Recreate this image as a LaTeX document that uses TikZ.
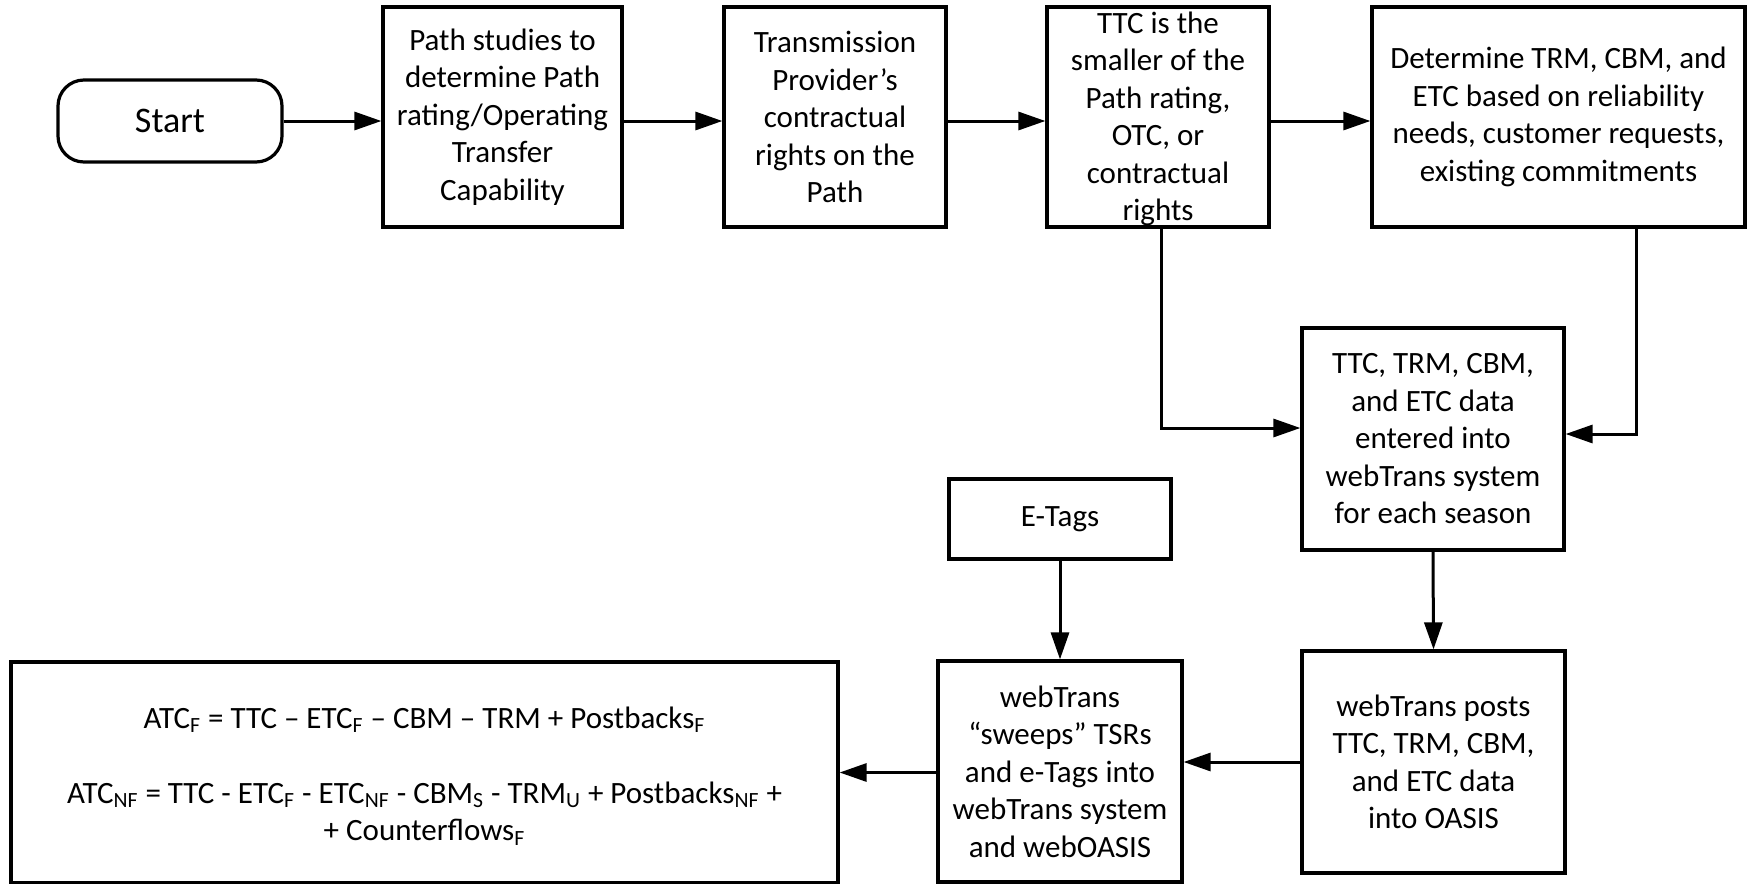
\documentclass[tikz,border=0pt]{standalone}
\usepackage{fontspec}
\setmainfont{Carlito}
\usetikzlibrary{arrows.meta}
\tikzset{
  boxst/.style={draw, line width=1.6pt, inner sep=0pt, align=center},
  txt/.style={align=center, inner sep=0pt, font=\fontsize{15.5}{18.75}\selectfont},
  conn/.style={line width=1.5pt, -{Triangle[length=13.5pt,width=9pt]}},
}
\begin{document}
\begin{tikzpicture}[x=0.5pt,y=-0.5pt]
\useasboundingbox (0,0) rectangle (1752,884);
% Start
\node[boxst, rounded corners=13pt, minimum width=112pt, minimum height=41pt, txt, font=\fontsize{18}{21}\selectfont] (start) at (170,121) {Start};
% top row
\node[boxst, minimum width=119.5pt, minimum height=110pt] (b1) at (502.5,117) {};
\node[txt] (b1t) at (b1.center) {Path studies to\\determine Path\\rating/Operating\\Transfer\\Capability};
\node[boxst, minimum width=111pt, minimum height=110pt] (b2) at (835,117) {};
\node[txt] (b2t) at (b2.center) {Transmission\\Provider’s\\contractual\\rights on the\\Path};
\node[boxst, minimum width=111pt, minimum height=110pt] (b3) at (1158,117) {};
\node[txt] (b3t) at (1158,119) {TTC is the\\smaller of the\\Path rating,\\OTC, or\\contractual\\rights};
\node[boxst, minimum width=186.5pt, minimum height=110pt] (b4) at (1558.5,117) {};
\node[txt] (b4t) at (b4.center) {Determine TRM, CBM, and\\ETC based on reliability\\needs, customer requests,\\existing commitments};
% middle
\node[boxst, minimum width=131pt, minimum height=111pt] (b5) at (1433,439) {};
\node[txt] (b5t) at (b5.center) {TTC, TRM, CBM,\\and ETC data\\entered into\\webTrans system\\for each season};
\node[boxst, minimum width=111pt, minimum height=40pt] (etag) at (1060,519) {};
\node[txt] (etagt) at (etag.center) {E-Tags};
% bottom
\node[boxst, minimum width=131.5pt, minimum height=111pt] (b7) at (1433.5,762) {};
\node[txt] (b7t) at (b7.center) {webTrans posts\\TTC, TRM, CBM,\\and ETC data\\into OASIS};
\node[boxst, minimum width=122pt, minimum height=110.5pt] (b6) at (1060,771.5) {};
\node[txt] (b6t) at (b6.center) {webTrans\\“sweeps” TSRs\\and e-Tags into\\webTrans system\\and webOASIS};
\node[boxst, minimum width=413.5pt, minimum height=110.5pt] (form) at (424.5,772.5) {};
\node[txt] (formt) at (424.5,776) {ATC\textsubscript{F} = TTC – ETC\textsubscript{F} – CBM – TRM + Postbacks\textsubscript{F}\\[18.75pt]
ATC\textsubscript{NF} = TTC - ETC\textsubscript{F} - ETC\textsubscript{NF} - CBM\textsubscript{S} - TRM\textsubscript{U} + Postbacks\textsubscript{NF} +\\
+ Counterflows\textsubscript{F}};
% connectors
\draw[conn] (start.east) -- (start.east -| b1.west);
\draw[conn] (b1.east |- start.east) -- (b2.west |- start.east);
\draw[conn] (b2.east |- start.east) -- (b3.west |- start.east);
\draw[conn] (b3.east |- start.east) -- (b4.west |- start.east);
\coordinate (c3) at (1161,428);
\draw[conn] (b3.south -| c3) -- (c3) -- (c3 -| b5.west);
\coordinate (c4) at (1636,434);
\draw[conn] (b4.south -| c4) -- (c4) -- (c4 -| b5.east);
\draw[conn] (b5.south) -- (b7.north);
\draw[conn] (etag.south) -- (b6.north);
\draw[conn] (b7.west) -- (b7.west -| b6.east);
\draw[conn] (b6.west |- form.east) -- (form.east);
\end{tikzpicture}
\end{document}
